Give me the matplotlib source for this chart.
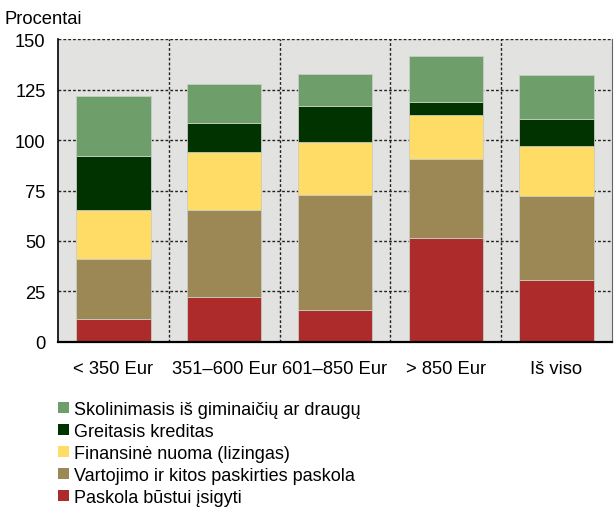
#!/usr/bin/env python3
"""Stacked bars: borrowing sources by income group."""

import matplotlib
matplotlib.use("Agg")
import matplotlib.pyplot as plt
import numpy as np
from matplotlib.patches import Patch

plt.rcParams["font.family"] = ["Liberation Sans Narrow", "Liberation Sans", "DejaVu Sans"]

CATEGORIES = ["< 350 Eur", "351–600 Eur", "601–850 Eur", "> 850 Eur", "Iš viso"]

# bottom to top
SERIES = [
    "Paskola būstui įsigyti",
    "Vartojimo ir kitos paskirties paskola",
    "Finansinė nuoma (lizingas)",
    "Greitasis kreditas",
    "Skolinimasis iš giminaičių ar draugų",
]
HOUSING = [11.2, 22.3, 15.7, 51.3, 30.6]
CONSUMER = [29.8, 42.9, 56.9, 39.2, 41.5]
LEASING = [24.3, 29.1, 26.2, 22.0, 24.8]
QUICK = [26.8, 14.0, 18.1, 6.1, 13.4]
FRIENDS = [29.5, 19.5, 15.9, 22.8, 21.7]
COLORS = ["#AE2B2B", "#9C8855", "#FEDC66", "#003300", "#6E9F6A"]


def main() -> None:
    fig = plt.figure(figsize=(6.14, 5.10), dpi=100)
    ax = fig.add_axes([0.0945, 0.3275, 0.902, 0.594])
    ax.set_facecolor("#E2E3E1")

    x = np.arange(len(CATEGORIES))
    bottom = np.zeros(len(CATEGORIES))
    for values, color in zip([HOUSING, CONSUMER, LEASING, QUICK, FRIENDS], COLORS):
        ax.bar(x, values, 0.67, bottom=bottom, color=color, edgecolor="#C8CCC4",
               linewidth=0.6, zorder=3)
        bottom += np.array(values)

    ax.set_xlim(-0.5, len(CATEGORIES) - 0.5)
    ax.set_ylim(0, 150)
    ax.set_yticks([0, 25, 50, 75, 100, 125, 150])
    ax.set_xticks(x)
    ax.set_xticklabels(CATEGORIES)
    ax.tick_params(axis="both", length=0, labelsize=13.2, colors="black")
    ax.tick_params(axis="x", pad=13)
    ax.tick_params(axis="y", pad=9)

    for y in [25, 50, 75, 100, 125, 150]:
        ax.axhline(y, color="#222222", lw=1.0, ls=(0, (2, 1.5)), zorder=1)
    for xb in np.arange(0.5, len(CATEGORIES) - 0.5, 1.0):
        ax.axvline(xb, color="#222222", lw=1.0, ls=(0, (2, 1.5)), zorder=1)

    ax.spines["top"].set_visible(False)
    ax.spines["right"].set_color("#666666")
    ax.spines["left"].set_color("black")
    ax.spines["left"].set_linewidth(1.2)
    ax.spines["bottom"].set_color("black")
    ax.spines["bottom"].set_linewidth(1.6)
    ax.spines["bottom"].set_zorder(4)

    fig.text(0.008, 0.962, "Procentai", fontsize=13.2, va="center", ha="left")

    handles = [Patch(facecolor=c, edgecolor="none") for c in COLORS[::-1]]
    fig.legend(handles, SERIES[::-1], loc="upper left", bbox_to_anchor=(0.094, 0.212),
               frameon=False, fontsize=13, handlelength=0.6, handleheight=0.6,
               handletextpad=0.3, labelspacing=0.28, borderaxespad=0, borderpad=0)

    fig.savefig("out.png", dpi=100)
    plt.close(fig)


if __name__ == "__main__":
    main()
